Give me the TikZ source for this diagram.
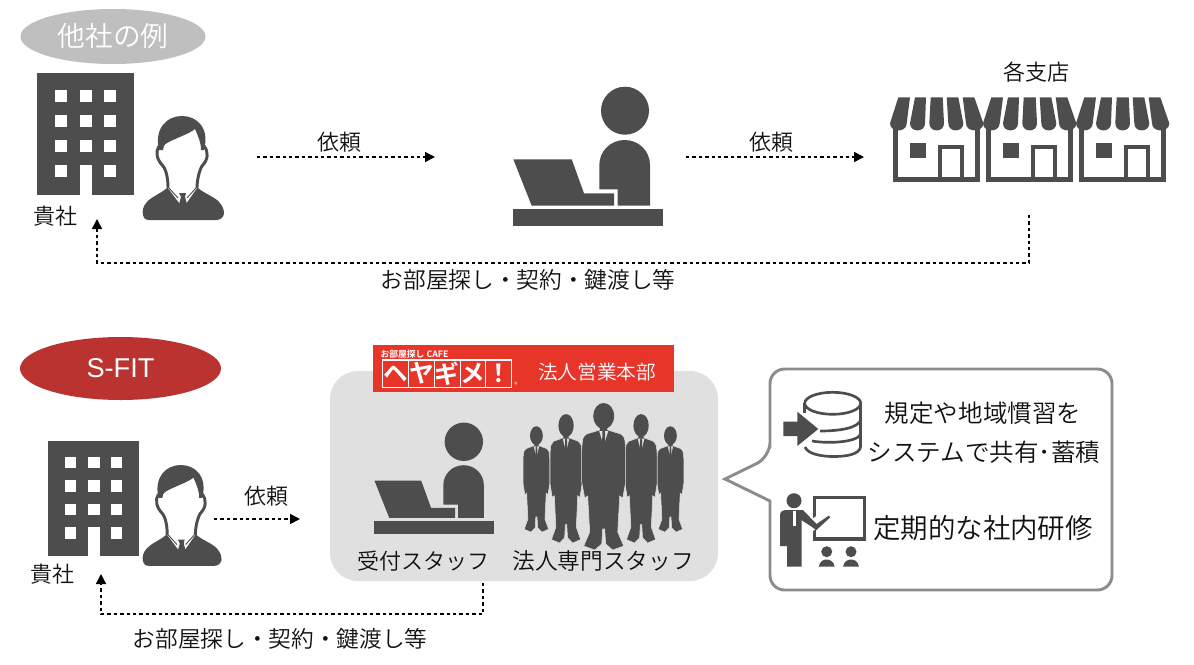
\documentclass[tikz,border=0pt]{standalone}
\usepackage{fontspec}
\setmainfont{Noto Sans CJK JP DemiLight}[BoldFont={Noto Sans CJK JP Bold}]
\newfontfamily\latinfont{Liberation Sans}
\usetikzlibrary{shapes.geometric,arrows.meta}
\definecolor{icongray}{HTML}{4D4D4D}
\definecolor{panelgray}{HTML}{E0E0E0}
\definecolor{otherbg}{HTML}{BFBFBF}
\definecolor{sfitred}{HTML}{BA3331}
\definecolor{bannerred}{HTML}{E8352A}
\definecolor{callgray}{HTML}{8C8C8C}
\definecolor{textgray}{HTML}{111111}
\tikzset{
  caption/.style = {text=textgray, inner sep=0pt, font=\fontsize{16.5}{20}\selectfont},
  longcaption/.style = {caption, font=\fontsize{17}{20}\selectfont},
  flowline/.style = {black, line width=1.1pt, dash pattern=on 2.6pt off 2.2pt, -{Triangle[length=7.5pt,width=7.5pt]}},
  % the icons, each drawn from its own top left corner, in pixels
  building/.pic = {
    \fill[icongray] (0,0) rectangle (97,122);
    \foreach \wx in {18,43,67} \foreach \wy in {17,42,67}
      \fill[white] (\wx,\wy) rectangle +(12,12);
    \fill[white] (18,92) rectangle +(12,12);
    \fill[white] (67,92) rectangle +(12,12);
    \fill[white] (43,92) rectangle (55,122);
  },
  clerk/.pic = {
    \fill[icongray] (40,72) -- (25,72) .. controls (18,78) and (9,81) .. (5,86) .. controls (1,90) and (0,95) .. (1,99) .. controls (2,103) and (4,104) .. (8,104)
      -- (74,104) .. controls (78,104) and (81,102) .. (82,98) .. controls (82,94) and (81,90) .. (77,86) .. controls (73,81) and (63,78) .. (56,72) -- cycle;
    \fill[white] (17,30) .. controls (13,36) and (15,44) .. (21,50) .. controls (25,55) and (26,65) .. (26,72)
      -- (41,92) -- (55,72) .. controls (55,65) and (57,55) .. (60,50) .. controls (66,44) and (67,36) .. (62,30) -- cycle;
    \draw[icongray, line width=2.2pt] (17,30) .. controls (13,36) and (15,44) .. (21,50) .. controls (25,55) and (26,65) .. (26,72);
    \draw[icongray, line width=2.2pt] (62,30) .. controls (67,36) and (66,44) .. (60,50) .. controls (57,55) and (55,65) .. (55,72);
    \fill[icongray] (17,34) .. controls (12,12) and (25,0) .. (40,0) .. controls (55,0) and (68,12) .. (62,34)
      -- (59,34) .. controls (59,26) and (56,20) .. (53,13) .. controls (47,18) and (34,22) .. (25,27) .. controls (22,29) and (21,31) .. (21,34) -- cycle;
    \fill[icongray] (37,77) -- (44,77) -- (43,81) -- (45,88) -- (41,93) -- (37,88) -- (39,81) -- cycle;
    \draw[icongray, line width=0.7pt] (27,72) -- (36,82) (54,72) -- (45,82);
  },
  deskstaff/.pic = {
    \fill[icongray] (112.3,23.7) circle[radius=24];
    \fill[icongray] (86.6,78) .. controls (86.6,64) and (98,53) .. (112,53) .. controls (126,53) and (137.3,64) .. (137.3,78)
      -- (137.3,118.7) -- (105,118.7) -- (105,102.3) -- (86.6,102.3) -- cycle;
    \fill[icongray] (0.6,72.3) -- (59,72.3) -- (71.3,106.3) -- (101.3,106.3) -- (101.3,118.7) -- (19,118.7) -- cycle;
    \fill[icongray] (0,122.3) rectangle (150.3,138.7);
  },
  shop/.pic = {
    \draw[icongray, line width=3.8pt] (5.8,28) -- (5.8,82) -- (87.5,82) -- (87.5,28);
    \draw[icongray, line width=3pt] (49.5,80) -- (49.5,49.7) -- (71.5,49.7) -- (71.5,80);
    \fill[icongray] (20,46) rectangle (35.7,61);
    \foreach \ta/\tb/\ba/\bb in {8.3/20/0/16.7, 25/36/20/35, 40.7/52.7/39.3/54, 56.7/68.3/58.3/73.3, 72.7/84.3/76/93.3}
      \fill[icongray] (\ta,0) -- (\tb,0) -- (\bb,26) .. controls (\bb,35.5) and (\ba,35.5) .. (\ba,26) -- cycle;
  },
  man/.pic = {
    \fill[icongray, draw=panelgray, line width=0.4pt] (18,20) -- (18,26) -- (5,30) .. controls (1,33) .. (0,45) -- (0,78) -- (3,94) -- (6,92)
      -- (8,128) -- (2,142) -- (13,146) -- (20,140) -- (21,125) -- (23,125) -- (24,140) -- (31,146) -- (42,142) -- (36,128)
      -- (38,92) -- (41,94) -- (44,78) -- (44,45) .. controls (43,33) .. (39,30) -- (26,26) -- (26,20) -- cycle;
    \fill[icongray] (22,12) ellipse[x radius=10.5, y radius=13];
    \fill[panelgray] (17.5,27) -- (22,42) -- (26.5,27) -- cycle;
    \fill[icongray] (20.8,27) -- (23.2,27) -- (24,48) -- (22,54) -- (20,48) -- cycle;
  },
}
\begin{document}
\begin{tikzpicture}[x=0.75pt,y=-0.75pt]
\useasboundingbox (0,0) rectangle (1194,664);

% other companies
\node (other) [ellipse, fill=otherbg, inner sep=0pt, minimum width=138.75pt, minimum height=41.25pt, text=white, font=\fontsize{20.8}{24}\selectfont] at (113,36.5) {他社の例};
\pic at (37,73) {building};
\pic at (142,116) {clerk};
\pic at (512.7,87) {deskstaff};
\pic at (890,97.3) {shop};
\pic at (983,97.3) {shop};
\pic at (1076,97.3) {shop};
\node (you1) [caption] at (55,216) {貴社};
\node (req1) [caption] at (339,142) {依頼};
\node (req2) [caption] at (771,142) {依頼};
\node (branches) [caption] at (1036,72) {各支店};
\node (work1) [longcaption] at (528,280) {お部屋探し・契約・鍵渡し等};
\coordinate (a1) at (257,157);
\coordinate (a2) at (435,157);
\coordinate (b1) at (686,157);
\coordinate (b2) at (864,157);
\coordinate (c1) at (1029,215);
\coordinate (c2) at (97,219);
\draw[flowline] (a1) -- (a2);
\draw[flowline] (b1) -- (b2);
\draw[flowline] (c1) -- (c1 |- 0,263) -- (c2 |- 0,263) -- (c2);

% S-FIT
\node (sfit) [ellipse, fill=sfitred, inner sep=0pt, minimum width=150.75pt, minimum height=47.25pt, text=white, font=\latinfont\fontsize{20.4}{24}\selectfont] at (120.5,368.5) {S-FIT};
\node (panel) [fill=panelgray, rounded corners=21pt, inner sep=0pt, minimum width=291pt, minimum height=157.5pt] at (524,476) {};
\node (banner) [fill=bannerred, inner sep=0pt, minimum width=225.75pt, minimum height=35.25pt] at (523.5,368.5) {};
\node (logotop) [text=white, inner sep=0pt, font=\bfseries\fontsize{6.6}{8}\selectfont] at (414.5,354.5) {お部屋探し CAFE};
\draw[white, line width=1pt] (382.7,360) rectangle (511.7,387.3);
\foreach \ch [count=\i from 0] in {ヘ,ヤ,ギ,メ,！}{
  \node (logo\i) [text=white, inner sep=0pt, font=\bfseries\fontsize{18.5}{20}\selectfont] at (395.6+25.8*\i,373.6) {\ch};
}
\foreach \i in {1,2,3,4}
  \draw[white, line width=0.8pt] (382.7+25.8*\i,360) -- (382.7+25.8*\i,387.3);
\node (reg) [text=white, inner sep=0pt, font=\fontsize{5}{6}\selectfont] at (516,385) {®};
\node (division) [text=white, inner sep=0pt, font=\fontsize{14.7}{18}\selectfont] at (597,372) {法人営業本部};

\pic[scale=.94] at (48,441) {building};
\pic[scale=.97] at (142,465) {clerk};
\pic[scale=.8] at (374,422.8) {deskstaff};
\pic[xscale=.61,yscale=.72] at (523,427) {man};
\pic[xscale=.61,yscale=.72] at (657,427) {man};
\pic[xscale=.73,yscale=.877] at (550,415) {man};
\pic[xscale=.73,yscale=.877] at (625,415) {man};
\pic at (581.7,404) {man};
\node (you2) [caption] at (52,574) {貴社};
\node (req3) [caption] at (266,496) {依頼};
\node (front) [caption] at (423,561) {受付スタッフ};
\node (corp) [longcaption] at (603,561) {法人専門スタッフ};
\node (work2) [longcaption] at (280,639) {お部屋探し・契約・鍵渡し等};
\coordinate (d1) at (214,519);
\coordinate (d2) at (300,519);
\coordinate (e1) at (483,583);
\coordinate (e2) at (101,574);
\draw[flowline] (d1) -- (d2);
\draw[flowline] (e1) -- (e1 |- 0,614) -- (e2 |- 0,614) -- (e2);

% callout
\draw[callgray, line width=2.2pt, fill=white, line join=miter] (770,457) [sharp corners] -- (725,479) -- (770,501) [rounded corners=11pt] -- (770,590) -- (1112,590) -- (1112,369) -- (770,369) -- (770,457) -- cycle;
\draw[icongray, line width=2pt] (832.7,403.3) ellipse[x radius=28, y radius=11];
\draw[icongray, line width=2pt] (804.7,403) -- (804.7,413) (860.7,403) -- (860.7,447);
\draw[icongray, line width=2pt] (820,431) .. controls (840,431) and (858,428) .. (860.7,420);
\draw[icongray, line width=2pt] (812,441) .. controls (830,444) and (858,442) .. (860.7,434);
\draw[icongray, line width=2pt] (805,447) .. controls (808,455) and (825,456.5) .. (833,456.5) .. controls (845,456.5) and (860,455) .. (860.7,446);
\fill[icongray] (783.3,421.7) -- (797.3,421.7) -- (797.3,411.7) -- (818.3,429) -- (797.3,446) -- (797.3,436) -- (783.3,436) -- cycle;
\draw[icongray, line width=2.6pt] (814.5,497.5) rectangle (864.5,539);
\fill[white] (808,522) -- (822,512) -- (826,520) -- (812,532) -- cycle;
\fill[icongray] (794,500.7) circle[radius=7.5];
\fill[icongray] (785,510) -- (803,510) -- (816.5,524) -- (829,515.5) -- (830,517.5) -- (816.5,530) -- (801.5,520) -- (801.5,566.7) -- (787,566.7) -- (787,546) -- (780,546) -- (780,516) .. controls (780,512) and (782,510) .. (785,510) -- cycle;
\fill[white] (792.5,511) -- (795.5,511) -- (795.5,526) -- (792.5,526) -- cycle;
\foreach \hx in {826.7,851}{
  \fill[icongray] (\hx,551.7) circle[radius=5.5];
  \fill[icongray] (\hx-8,566.7) .. controls (\hx-7,561) and (\hx-3,559.5) .. (\hx,559.5) .. controls (\hx+3,559.5) and (\hx+7,561) .. (\hx+8,566.7) -- cycle;
}
\node (rule1) [text=textgray, inner sep=0pt, font=\fontsize{18.4}{22}\selectfont] at (983,413) {規定や地域慣習を};
\node (rule2) [text=textgray, inner sep=0pt, font=\fontsize{18.4}{22}\selectfont] at (984,452) {システムで共有･蓄積};
\node (train) [text=textgray, inner sep=0pt, font=\fontsize{20.6}{24}\selectfont] at (983,528) {定期的な社内研修};
\end{tikzpicture}
\end{document}
